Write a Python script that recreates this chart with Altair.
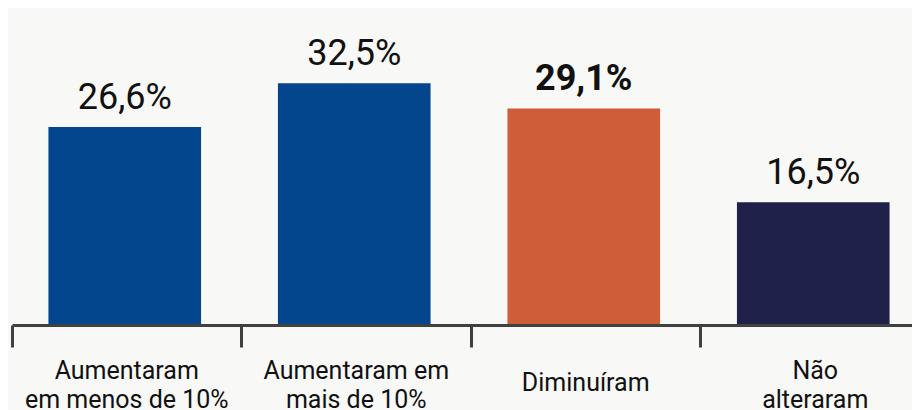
import altair as alt
import pandas as pd

categories = [
    "Aumentaram\nem menos de 10%",
    "Aumentaram em\nmais de 10%",
    "Diminuíram",
    "Não\nalteraram",
]
values = [26.6, 32.5, 29.1, 16.5]
value_labels = ["26,6%", "32,5%", "29,1%", "16,5%"]
highlight_category = "Diminuíram"

bar_colors = ["#03468e", "#03468e", "#cf5d3a", "#20214a"]

df = pd.DataFrame({"categoria": categories, "valor": values, "rotulo": value_labels})

x = alt.X(
    "categoria:N",
    sort=categories,
    scale=alt.Scale(paddingInner=0, paddingOuter=0),
    axis=alt.Axis(
        title=None,
        labelAngle=0,
        bandPosition=0,
        domainColor="#404040",
        domainWidth=3,
        tickColor="#404040",
        tickWidth=3,
        tickSize=22,
        labelFont="Roboto",
        labelFontSize=25,
        labelColor="#111111",
        labelBaseline="alphabetic",
        labelLineHeight=29,
        labelPadding={
            "condition": {"test": "indexof(datum.label, '\\n') < 0", "value": 43},
            "value": 31,
        },
        labelLimit=0,
        labelOverlap=False,
        labelExpr="split(datum.label, '\\n')",
        zindex=1,
    ),
)
y = alt.Y("valor:Q", scale=alt.Scale(domain=[0, 42.6]), axis=None)

base = alt.Chart(df).encode(x=x, y=y)

bars = base.mark_bar(width=alt.RelativeBandSize(0.665), xOffset=-2).encode(
    color=alt.Color("categoria:N", scale=alt.Scale(domain=categories, range=bar_colors), legend=None)
)

labels_normal = base.mark_text(
    font="Roboto", fontSize=36, baseline="alphabetic", dy=-18, dx=-2, color="#111111"
).encode(text="rotulo:N").transform_filter(alt.datum.categoria != highlight_category)

labels_bold = base.mark_text(
    font="Roboto", fontSize=36, fontWeight="bold", baseline="alphabetic", dy=-18, dx=-2, color="#111111"
).encode(text="rotulo:N").transform_filter(alt.datum.categoria == highlight_category)

chart = (
    alt.layer(bars, labels_normal, labels_bold)
    .properties(
        width=918,
        height=317,
        autosize=alt.AutoSizeParams(type="none"),
        padding={"left": 4, "top": 0, "right": -18, "bottom": 85},
        background="#f8f8f7",
    )
    .configure_view(stroke=None)
)

chart.save("out.html", embed_options={"renderer": "svg", "actions": False})
